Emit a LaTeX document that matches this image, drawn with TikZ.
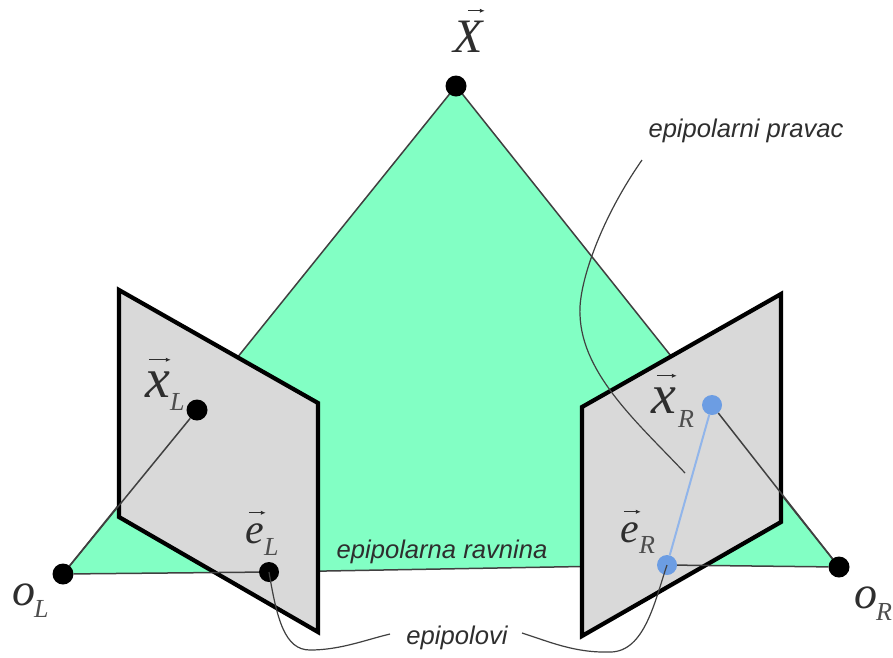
\documentclass[tikz,border=0pt]{standalone}
\usepackage{fontspec}
\usetikzlibrary{arrows.meta}
\setmainfont{Liberation Serif}
\setsansfont{Liberation Sans}
\definecolor{planegreen}{HTML}{82FFC4}
\definecolor{planegray}{HTML}{D9D9D9}
\definecolor{ptblue}{HTML}{6C9DE3}
\definecolor{inkgray}{HTML}{404040}
\definecolor{txtgray}{HTML}{2E2E2E}
% #1 shift of the arrow, #2 its height above the baseline, #3 its length, #4 the letter
\newcommand{\vecarrow}[4]{\rlap{\hspace*{#1}\raisebox{#2}{\tikz\draw[line width=1.1pt,-{Latex[length=5pt,width=4.5pt]}](0,0)--(#3,0);}}#4}
\begin{document}
\begin{tikzpicture}[x=1pt,y=-1pt,
  blackpt/.style={circle,fill=black,draw=none,minimum size=21pt,inner sep=0pt},
  bluept/.style={circle,fill=ptblue,draw=none,minimum size=20pt,inner sep=0pt},
  ray/.style={draw=inkgray,line width=1.5pt},
  frame/.style={draw=black,fill=planegray,line width=4.2pt,line join=miter},
  lead/.style={draw=inkgray,line width=1.2pt},
  sym/.style={font=\fontsize{#1}{#1}\selectfont\itshape,text=txtgray,inner sep=0pt,anchor=base west},
  sub/.style={font=\fontsize{26}{26}\selectfont\itshape,text=txtgray!85!white,inner sep=0pt,anchor=base west},
  note/.style={font=\sffamily\itshape\fontsize{25.6}{26}\selectfont,text=txtgray,inner sep=0pt}]
\useasboundingbox (0,0) rectangle (893,657);
% named points
\coordinate (oLc) at (63,574);
\coordinate (Xc) at (456,86);
\coordinate (oRc) at (839,567);
\coordinate (eLc) at (269,572);
\coordinate (eRc) at (667,565);
\coordinate (xLc) at (197,410);
\coordinate (xRc) at (712,405);
% epipolar plane
\fill[planegreen] (oLc) -- (Xc) -- (oRc) -- (eRc) -- (eLc) -- cycle;
\draw[ray] (oLc) -- (Xc) -- (oRc);
\draw[ray] (eLc) -- (eRc);
% image planes
\draw[frame] (119,290) -- (318,403) -- (318,632) -- (119,517) -- cycle;
\draw[frame] (582,407) -- (781,294) -- (781,522) -- (582,636) -- cycle;
% points
\node[blackpt] (X) at (Xc) {};
\node[blackpt] (oL) at (oLc) {};
\node[blackpt] (oR) at (oRc) {};
\node[blackpt] (xL) at (xLc) {};
\node[blackpt,minimum size=20pt] (eL) at (eLc) {};
\node[bluept] (xR) at (xRc) {};
\node[bluept] (eR) at (eRc) {};
% rays over the planes
\draw[ray] (oL) -- (xL);
\draw[ray] (oL) -- (eL);
\draw[ray] (xR) -- (oR);
\draw[ray] (eR) -- (oR);
\draw[draw=ptblue!75!white,line width=2pt] (xR) -- (eR);
% labels
\node[sym=48] (lX) at (453,52) {\vecarrow{14pt}{39pt}{17pt}{X}};
\node[sym=56] (lxL) at (145,397) {\vecarrow{3pt}{35pt}{22pt}{x}};
\node[sub] (lxLs) at (170,410) {L};
\node[sym=42] (leL) at (245,543) {\vecarrow{3pt}{28pt}{17pt}{e}};
\node[sub] (leLs) at (264,555) {L};
\node[sym=46] (loL) at (12,605) {o};
\node[sub] (loLs) at (34,617) {L};
\node[sym=56] (lxR) at (651,413) {\vecarrow{5pt}{35pt}{20pt}{x}};
\node[sub] (lxRs) at (678,427) {R};
\node[sym=42] (leR) at (620,542) {\vecarrow{3pt}{28pt}{17pt}{e}};
\node[sub] (leRs) at (639,553) {R};
\node[sym=46] (loR) at (854,608) {o};
\node[sub] (loRs) at (876,620) {R};
\node[note] (nline) at (746,131) {epipolarni pravac};
\node[note] (nplane) at (442,552) {epipolarna ravnina};
\node[note] (nepi) at (457,638) {epipolovi};
% leaders
\coordinate (lineA) at (642,160);
\coordinate (lineB) at (685,473);
\coordinate (epiL) at (390,634);
\coordinate (epiR) at (522,633);
\draw[lead] (lineA) .. controls (600,220) and (578,285) .. (580,315)
  .. controls (582,375) and (640,425) .. (lineB);
\draw[lead] (eL.center) .. controls (277,620) and (285,650) .. (310,650)
  .. controls (340,650) and (365,640) .. (epiL);
\draw[lead] (eR.center) .. controls (655,600) and (645,652) .. (610,652)
  .. controls (575,653) and (550,642) .. (epiR);
\end{tikzpicture}
\end{document}
